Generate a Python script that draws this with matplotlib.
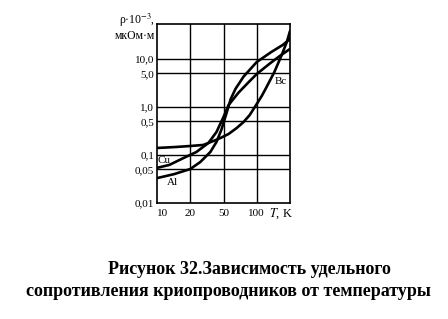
import numpy as np
import matplotlib
matplotlib.use("Agg")
import matplotlib.pyplot as plt
from matplotlib.ticker import FixedLocator, FixedFormatter, NullLocator

plt.rcParams['font.family'] = ['Liberation Serif', 'DejaVu Serif']
plt.rcParams['mathtext.fontset'] = 'stix'

# ---- data (T in K, resistivity in 1e-3 uOhm*m) ----
T_be = [10, 14.9, 20, 28.7, 37.9, 46, 55.6, 65.8, 76, 86.3, 100, 118, 136, 179, 228, 270, 300]
rho_be = [0.140, 0.147, 0.154, 0.162, 0.196, 0.226, 0.274, 0.365, 0.487, 0.68, 1.155, 1.7, 2.49, 5.36, 12.1, 22.6, 38.3]

T_cu = [10, 12.9, 17.4, 23.7, 33, 41.2, 50, 55.6, 68.5, 84.5, 100, 151, 213, 300]
rho_cu = [0.054, 0.062, 0.0866, 0.1155, 0.178, 0.301, 0.62, 1.1, 2.0, 3.3, 4.87, 7.87, 11.5, 16.2]

T_al = [10, 14.3, 20, 26.4, 34.8, 41.2, 47.3, 53.2, 58, 64.3, 76, 100, 162, 236, 300]
rho_al = [0.033, 0.040, 0.051, 0.0715, 0.1155, 0.187, 0.34, 0.74, 1.45, 2.4, 4.3, 8.66, 14.0, 19.6, 26.1]

x_ticks = [10, 20, 50, 100]
x_ticklabels = ['10', '20', '50', '100']
x_edges = [10, 20, 50, 100, 300]
y_ticks = [0.01, 0.05, 0.1, 0.5, 1.0, 5.0, 10.0]
y_ticklabels = ['0,01', '0,05', '0,1', '0,5', '1,0', '5,0', '10,0']

curve_labels = ['Cu', 'Al', 'Bc']

# ---- piecewise-log x scale (grid cells evenly spaced) ----
_lx = np.log10(x_edges)
_pos = np.arange(len(x_edges), dtype=float)

def fwd(t):
    t = np.asarray(t, dtype=float)
    with np.errstate(divide='ignore', invalid='ignore'):
        lt = np.log10(np.where(t > 0, t, 1e-9))
    return np.interp(lt, _lx, _pos)

def inv(p):
    p = np.asarray(p, dtype=float)
    return 10 ** np.interp(p, _pos, _lx)

fig = plt.figure(figsize=(4.48, 3.19), dpi=100)
ax = fig.add_axes([157/448, 1-203/319, 133/448, 179/319])
ax.set_xscale('function', functions=(fwd, inv))
ax.set_yscale('log')
ax.set_xlim(10, 300)
ax.set_ylim(0.01, 53.6)

lw = 1.9
ax.plot(T_be, rho_be, color='black', lw=lw, solid_capstyle='round', solid_joinstyle='round')
ax.plot(T_cu, rho_cu, color='black', lw=lw, solid_capstyle='round', solid_joinstyle='round')
ax.plot(T_al, rho_al, color='black', lw=lw, solid_capstyle='round', solid_joinstyle='round')

# grid
for yv in y_ticks[1:]:
    ax.axhline(yv, color='black', lw=1.0)
for xv in x_ticks[1:]:
    ax.axvline(xv, color='black', lw=1.0)

for s in ax.spines.values():
    s.set_linewidth(1.2)

ax.xaxis.set_major_locator(FixedLocator(x_ticks))
ax.xaxis.set_major_formatter(FixedFormatter(x_ticklabels))
ax.xaxis.set_minor_locator(NullLocator())
ax.yaxis.set_major_locator(FixedLocator(y_ticks))
ax.yaxis.set_major_formatter(FixedFormatter(y_ticklabels))
ax.yaxis.set_minor_locator(NullLocator())
ax.tick_params(axis='both', length=0, labelsize=8, pad=2)
ax.tick_params(axis='x', pad=4)
for lbl in ax.get_xticklabels():
    lbl.set_horizontalalignment('center')
ax.get_xticklabels()[0].set_horizontalalignment('left')

# axis labels
fig.text(155/448, 1-20/319, r'ρ·10$^{-3}$,', ha='right', va='center', fontsize=8.5)
fig.text(155/448, 1-36/319, 'мкОм·м', ha='right', va='center', fontsize=8.5)
fig.text(281/448, 1-214/319, r'$T$, K', ha='center', va='center', fontsize=9)

# curve labels
ax.text(0.055, 0.235, curve_labels[0], transform=ax.transAxes, fontsize=8, ha='center', va='center')
ax.text(0.115, 0.117, curve_labels[1], transform=ax.transAxes, fontsize=8, ha='center', va='center')
ax.text(0.93, 0.68, curve_labels[2], transform=ax.transAxes, fontsize=8, ha='center', va='center')

# caption
fig.text(249/448, 1-270/319, 'Рисунок 32.Зависимость удельного', ha='center', va='center',
         fontsize=13, fontweight='bold')
fig.text(228/448, 1-291/319, 'сопротивления криопроводников от температуры', ha='center', va='center',
         fontsize=13, fontweight='bold')

fig.savefig('out.png', dpi=100)
